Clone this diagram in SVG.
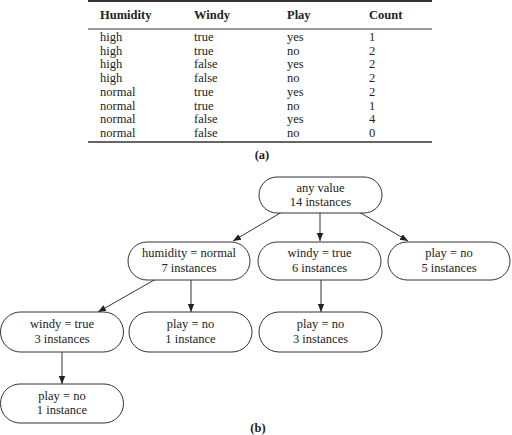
<svg xmlns="http://www.w3.org/2000/svg" width="512" height="435" viewBox="0 0 512 435">
<defs>
<style>
text{font-family:"Liberation Serif","Times New Roman",serif;font-size:12.5px;fill:#222}
.b{font-weight:bold}
.m{text-anchor:middle}
.node rect{fill:#fff;stroke:#333;stroke-width:1}
.rule{stroke:#333}
#connectors line{stroke:#333;stroke-width:1;marker-end:url(#ah)}
</style>
<marker id="ah" viewBox="0 0 10 10" refX="10" refY="5" markerWidth="8" markerHeight="8" orient="auto" markerUnits="userSpaceOnUse">
<path d="M0,1 L10,5 L0,9 z" fill="#222"/>
</marker>
</defs>
<rect width="512" height="435" fill="#fff"/>
<g id="table">
<line class="rule" x1="88" y1="1" x2="432" y2="1" stroke-width="2"/>
<line class="rule" x1="88" y1="29" x2="432" y2="29" stroke-width="1"/>
<line class="rule" x1="88" y1="142" x2="432" y2="142" stroke-width="1.5"/>
<text class="b" x="100" y="19">Humidity</text>
<text class="b" x="194" y="19">Windy</text>
<text class="b" x="287" y="19">Play</text>
<text class="b" x="369" y="19">Count</text>
<text x="100" y="41">high</text><text x="194" y="41">true</text><text x="287" y="41">yes</text><text x="369" y="41">1</text>
<text x="100" y="55">high</text><text x="194" y="55">true</text><text x="287" y="55">no</text><text x="369" y="55">2</text>
<text x="100" y="68">high</text><text x="194" y="68">false</text><text x="287" y="68">yes</text><text x="369" y="68">2</text>
<text x="100" y="82">high</text><text x="194" y="82">false</text><text x="287" y="82">no</text><text x="369" y="82">2</text>
<text x="100" y="96">normal</text><text x="194" y="96">true</text><text x="287" y="96">yes</text><text x="369" y="96">2</text>
<text x="100" y="110">normal</text><text x="194" y="110">true</text><text x="287" y="110">no</text><text x="369" y="110">1</text>
<text x="100" y="123">normal</text><text x="194" y="123">false</text><text x="287" y="123">yes</text><text x="369" y="123">4</text>
<text x="100" y="137">normal</text><text x="194" y="137">false</text><text x="287" y="137">no</text><text x="369" y="137">0</text>
<text class="b m" x="262" y="159">(a)</text>
</g>
<g id="connectors">
<line x1="282" y1="212" x2="233" y2="241"/>
<line x1="320" y1="213" x2="320" y2="241"/>
<line x1="359" y1="212" x2="408" y2="241"/>
<line x1="156" y1="279" x2="98" y2="312"/>
<line x1="191" y1="280" x2="191" y2="312"/>
<line x1="321" y1="280" x2="321" y2="312"/>
<line x1="62" y1="352" x2="62" y2="384"/>
</g>
<g id="n-root" class="node"><rect x="259" y="177" width="123" height="36" rx="18"/><text class="m" x="320.5" y="192">any value</text><text class="m" x="320.5" y="206">14 instances</text></g>
<g id="n-humidity" class="node"><rect x="128" y="242" width="122" height="38" rx="19"/><text class="m" x="189" y="257">humidity = normal</text><text class="m" x="189" y="272">7 instances</text></g>
<g id="n-windy" class="node"><rect x="258" y="242" width="123" height="38" rx="19"/><text class="m" x="319.5" y="257">windy = true</text><text class="m" x="319.5" y="272">6 instances</text></g>
<g id="n-play5" class="node"><rect x="388" y="242" width="122" height="38" rx="19"/><text class="m" x="449" y="257">play = no</text><text class="m" x="449" y="272">5 instances</text></g>
<g id="n-windy3" class="node"><rect x="0.5" y="312" width="123" height="40" rx="20"/><text class="m" x="62" y="328">windy = true</text><text class="m" x="62" y="343">3 instances</text></g>
<g id="n-play1a" class="node"><rect x="129" y="312" width="123" height="40" rx="20"/><text class="m" x="190.5" y="328">play = no</text><text class="m" x="190.5" y="343">1 instance</text></g>
<g id="n-play3" class="node"><rect x="259" y="312" width="123" height="40" rx="20"/><text class="m" x="320.5" y="328">play = no</text><text class="m" x="320.5" y="343">3 instances</text></g>
<g id="n-play1b" class="node"><rect x="0.5" y="384" width="123" height="39" rx="19.5"/><text class="m" x="62" y="400">play = no</text><text class="m" x="62" y="414">1 instance</text></g>
<text class="b m" x="258" y="432">(b)</text>
</svg>
